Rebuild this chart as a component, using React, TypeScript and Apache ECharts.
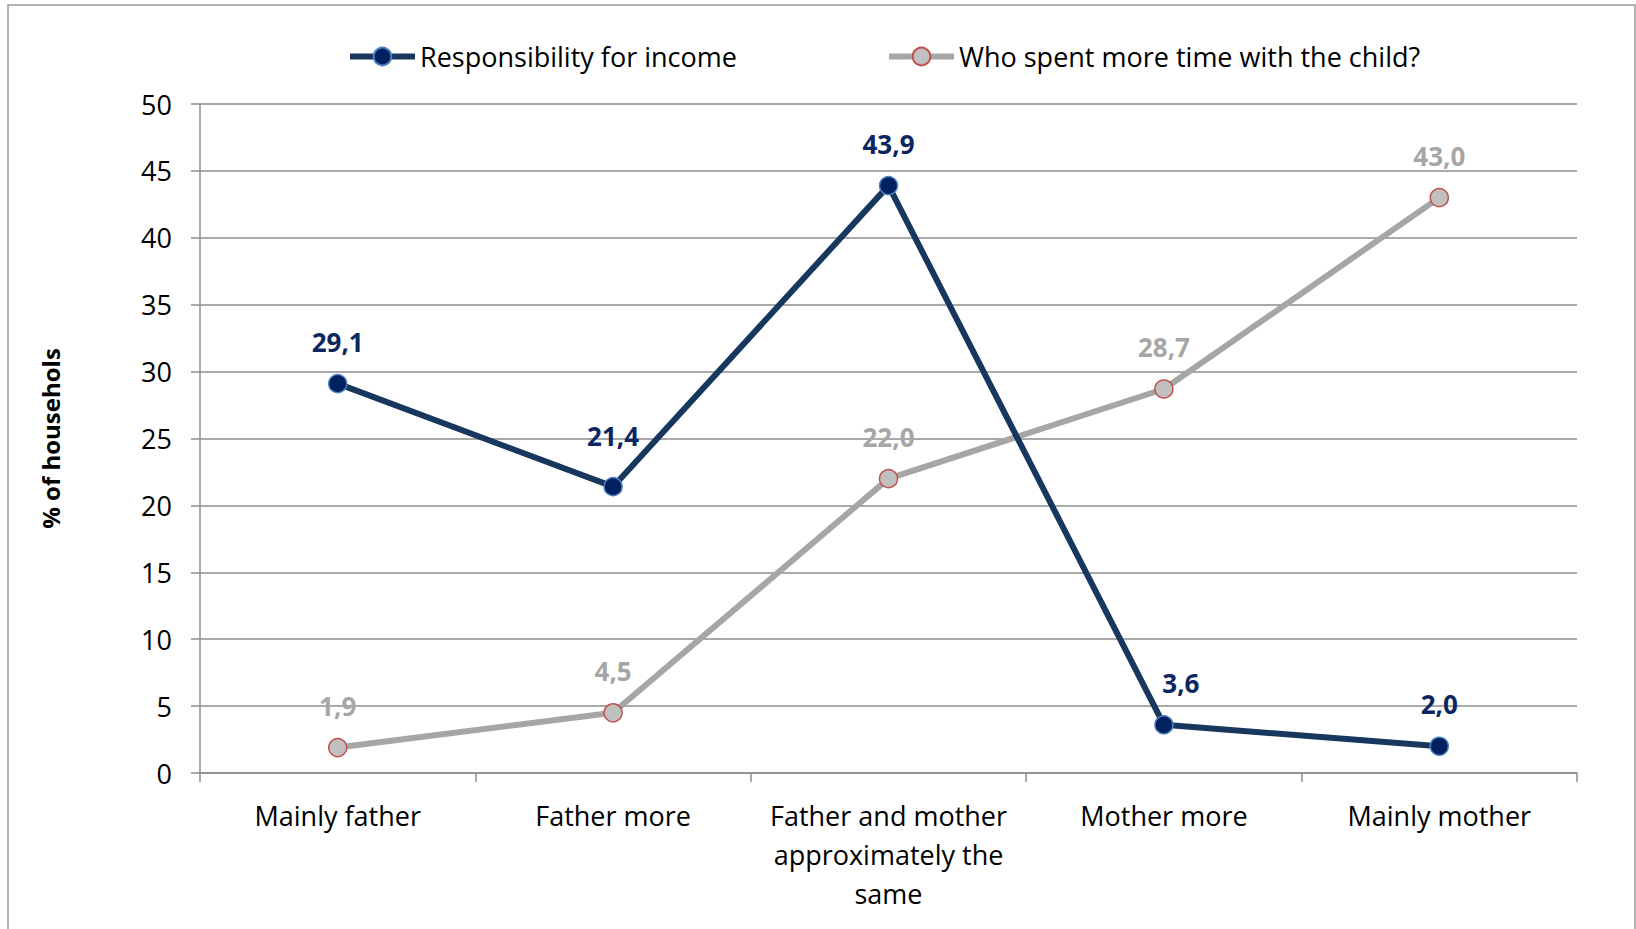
import React, { useEffect, useRef } from "react";
import * as echarts from "echarts";

const categories = [
  "Mainly father",
  "Father more",
  "Father and mother\napproximately the\nsame",
  "Mother more",
  "Mainly mother",
];
const seriesNames = ["Responsibility for income", "Who spent more time with the child?"];
const incomeValues = [29.1, 21.4, 43.9, 3.6, 2.0];
const timeValues = [1.9, 4.5, 22.0, 28.7, 43.0];
const yAxisName = "% of househols";

const FONT = "'Open Sans', Lato, sans-serif";
const FS = 27;

export default function App() {
  const ref = useRef<HTMLDivElement>(null);
  useEffect(() => {
    if (!ref.current) return;
    const chart = echarts.init(ref.current, null, { renderer: "svg" });
    const fmt = (p: any) => Number(p.value).toFixed(1).replace(".", ",");
    const legendCommon = {
      top: 38,
      itemWidth: 65,
      itemHeight: 22,
      textStyle: { fontFamily: FONT, fontSize: FS, color: "#000" },
      lineStyle: { width: 6 },
    };
    const incomeLabelOffsets: Record<number, number[]> = { 1: [0, -9], 3: [17, 0] };
    chart.setOption({
      animation: false,
      backgroundColor: "#ffffff",
      textStyle: { fontFamily: FONT },
      graphic: [
        {
          type: "rect",
          shape: { x: 8, y: 5, width: 1627, height: 940 },
          style: { fill: "none", stroke: "#9a9a9a", lineWidth: 1.5 },
          silent: true,
        },
      ],
      legend: [
        { ...legendCommon, data: [seriesNames[0]], left: 342 },
        { ...legendCommon, data: [seriesNames[1]], left: 881 },
      ],
      grid: { left: 200, top: 104, right: 59, bottom: 156, containLabel: false },
      xAxis: {
        type: "category",
        data: categories,
        boundaryGap: true,
        axisLine: { lineStyle: { color: "#8c8c8c", width: 1.5 } },
        axisTick: { show: true, length: 9, interval: 0, lineStyle: { color: "#8c8c8c", width: 1.5 } },
        axisLabel: {
          interval: 0,
          margin: 23,
          fontFamily: FONT,
          fontSize: FS,
          color: "#000",
          lineHeight: 39,
        },
      },
      yAxis: {
        type: "value",
        min: 0,
        max: 50,
        interval: 5,
        name: yAxisName,
        nameLocation: "middle",
        nameGap: 138,
        nameRotate: 90,
        nameTextStyle: { fontFamily: FONT, fontSize: 24, fontWeight: "bold", color: "#000" },
        axisLine: { show: true, lineStyle: { color: "#8c8c8c", width: 1.5 } },
        axisTick: { show: true, length: 9, lineStyle: { color: "#8c8c8c", width: 1.5 } },
        axisLabel: { margin: 28, fontFamily: FONT, fontSize: FS, color: "#000" },
        splitLine: { show: true, lineStyle: { color: "#8c8c8c", width: 1.5 } },
      },
      series: [
        {
          name: seriesNames[0],
          type: "line",
          data: incomeValues.map((v, i) =>
            incomeLabelOffsets[i] ? { value: v, label: { offset: incomeLabelOffsets[i] } } : v
          ),
          symbol: "circle",
          symbolSize: 18,
          lineStyle: { color: "#17375e", width: 6 },
          itemStyle: { color: "#002060", borderColor: "#4f81bd", borderWidth: 1.5 },
          label: {
            show: true,
            position: "top",
            distance: 19,
            formatter: fmt,
            fontFamily: FONT,
            fontSize: 26,
            fontWeight: "bold",
            color: "#0b2660",
          },
          z: 3,
        },
        {
          name: seriesNames[1],
          type: "line",
          data: timeValues,
          symbol: "circle",
          symbolSize: 18,
          lineStyle: { color: "#a6a6a6", width: 6 },
          itemStyle: { color: "#c0c0c0", borderColor: "#c0504d", borderWidth: 1.5 },
          label: {
            show: true,
            position: "top",
            distance: 19,
            formatter: fmt,
            fontFamily: FONT,
            fontSize: 26,
            fontWeight: "bold",
            color: "#a6a6a6",
          },
          z: 2,
        },
      ],
    });
    return () => chart.dispose();
  }, []);
  return (
    <div
      ref={ref}
      style={{ position: "fixed", left: 0, top: 0, width: 1636, height: 929, background: "#fff" }}
    />
  );
}
